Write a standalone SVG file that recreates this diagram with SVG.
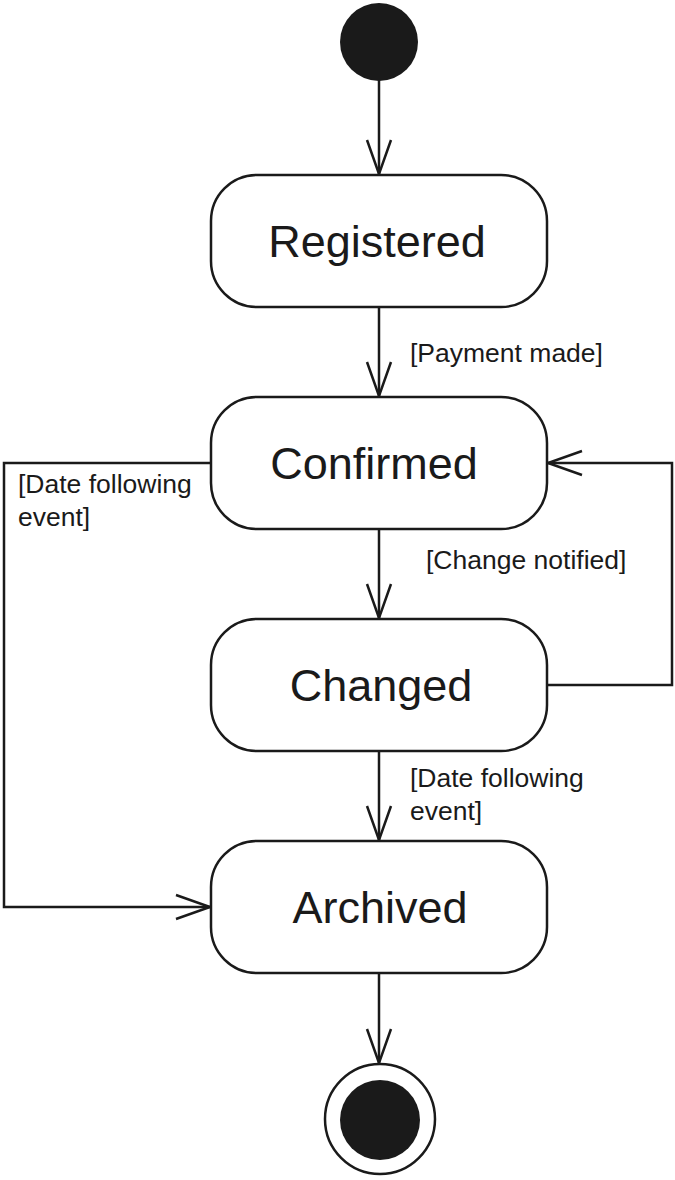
<svg xmlns="http://www.w3.org/2000/svg" width="675" height="1180" viewBox="0 0 675 1180">
<style>
.st{fill:#fff;stroke:#1a1a1a;stroke-width:2.5}
.name{font-family:"Liberation Sans",Arial,sans-serif;font-size:45px;fill:#1a1a1a;text-anchor:middle}
.lbl{font-family:"Liberation Sans",Arial,sans-serif;font-size:26.5px;fill:#1a1a1a}
.ln{fill:none;stroke:#1a1a1a;stroke-width:2.5}
</style>
<defs>
<marker id="open" viewBox="0 0 40 30" refX="36" refY="15" markerWidth="40" markerHeight="30" markerUnits="userSpaceOnUse" orient="auto">
<path d="M2,3 L36,15 L2,27" fill="none" stroke="#1a1a1a" stroke-width="2.5"/>
</marker>
</defs>
<g id="connectors">
<line class="ln" x1="379" y1="80" x2="379" y2="174" marker-end="url(#open)"/>
<line class="ln" x1="379" y1="307" x2="379" y2="396" marker-end="url(#open)"/>
<line class="ln" x1="379" y1="529" x2="379" y2="618" marker-end="url(#open)"/>
<line class="ln" x1="379" y1="751" x2="379" y2="840" marker-end="url(#open)"/>
<line class="ln" x1="379" y1="973" x2="379" y2="1063" marker-end="url(#open)"/>
<polyline class="ln" points="211,463 4,463 4,907 210,907" marker-end="url(#open)"/>
<polyline class="ln" points="547,685 672,685 672,463 548,463" marker-end="url(#open)"/>
<text class="lbl" x="410" y="362">[Payment made]</text>
<text class="lbl" x="426" y="569">[Change notified]</text>
<text class="lbl" x="410" y="787">[Date following</text>
<text class="lbl" x="410" y="820">event]</text>
<text class="lbl" x="18" y="493">[Date following</text>
<text class="lbl" x="18" y="526">event]</text>
</g>
<g id="initial"><circle cx="379" cy="42" r="39" fill="#1a1a1a"/></g>
<g id="registered"><rect class="st" x="211" y="175" width="336" height="132" rx="46"/><text class="name" x="377" y="257">Registered</text></g>
<g id="confirmed"><rect class="st" x="211" y="397" width="336" height="132" rx="46"/><text class="name" x="374" y="479">Confirmed</text></g>
<g id="changed"><rect class="st" x="211" y="619" width="336" height="132" rx="46"/><text class="name" x="381" y="701">Changed</text></g>
<g id="archived"><rect class="st" x="211" y="841" width="336" height="132" rx="46"/><text class="name" x="380" y="923">Archived</text></g>
<g id="final"><circle cx="380" cy="1119" r="55" fill="#fff" stroke="#1a1a1a" stroke-width="2.5"/><circle cx="380" cy="1120" r="40" fill="#1a1a1a"/></g>
</svg>
